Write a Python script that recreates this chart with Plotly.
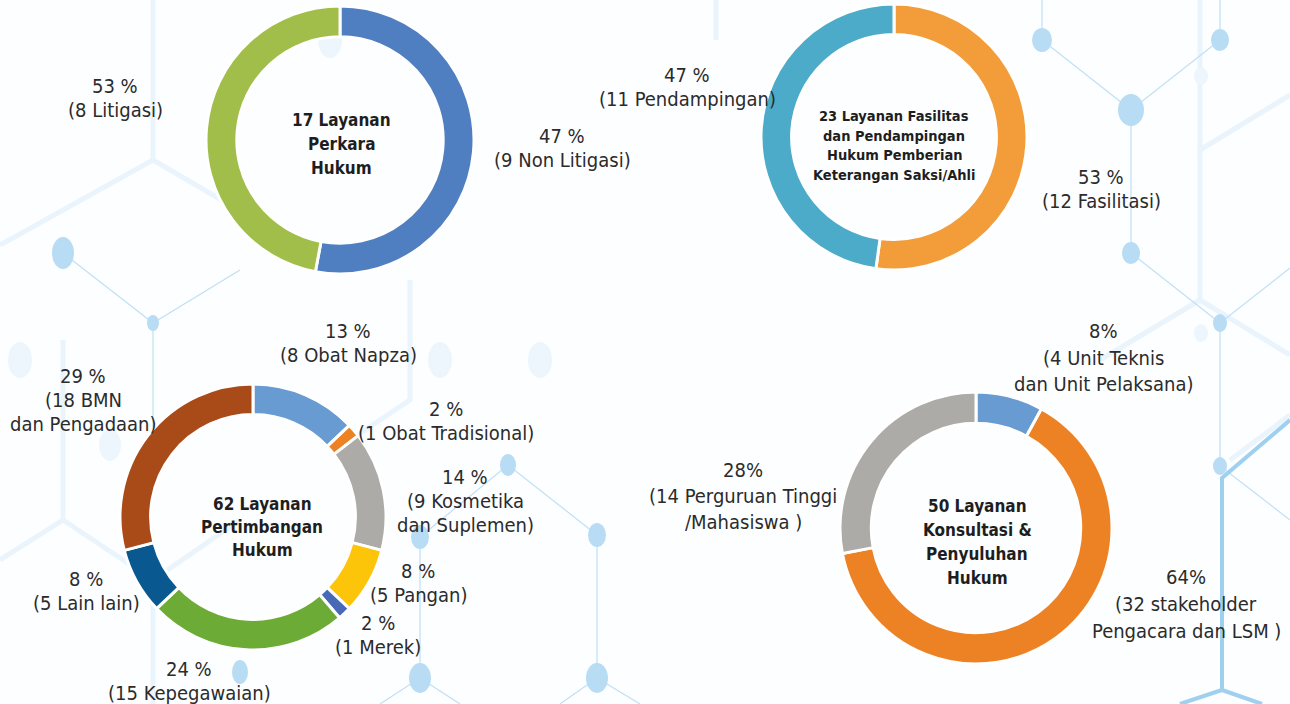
"""Donut infographic of legal services (Layanan Hukum)."""

import plotly.graph_objects as go

W, H = 1290, 704

# --- data --------------------------------------------------------------
perkara_labels = ["Non Litigasi", "Litigasi"]
perkara_values = [9, 8]
perkara_colors = ["#4F7FC1", "#A2BE4A"]

fasilitas_labels = ["Fasilitasi", "Pendampingan"]
fasilitas_values = [12, 11]
fasilitas_colors = ["#F39D3A", "#4CABC8"]

pertimbangan_labels = [
    "Obat Napza", "Obat Tradisional", "Kosmetika dan Suplemen", "Pangan",
    "Merek", "Kepegawaian", "Lain lain", "BMN dan Pengadaan",
]
pertimbangan_values = [8, 1, 9, 5, 1, 15, 5, 18]
pertimbangan_colors = [
    "#699BD3", "#EC8224", "#ACABA7", "#FDC50A",
    "#4769B8", "#6CAB36", "#0A5890", "#A84B18",
]

konsultasi_labels = [
    "Unit Teknis dan Unit Pelaksana", "stakeholder Pengacara dan LSM",
    "Perguruan Tinggi/Mahasiswa",
]
konsultasi_values = [4, 32, 14]
konsultasi_colors = ["#699BD3", "#EC8224", "#ACABA7"]

# label text: (x px, first line y px, line step px, lines)
perkara_text = [
    (115, 88, 20, ["53 %", "(8 Litigasi)"]),
    (562, 137, 21, ["47 %", "(9 Non Litigasi)"]),
]
fasilitas_text = [
    (687, 75, 23, ["47 %", "(11 Pendampingan)"]),
    (1101, 178, 22, ["53 %", "(12 Fasilitasi)"]),
]
pertimbangan_text = [
    (348, 332, 22, ["13 %", "(8 Obat Napza)"]),
    (446, 410, 22, ["2 %", "(1 Obat Tradisional)"]),
    (465, 480, 20.5, ["14 %", "(9 Kosmetika", "dan Suplemen)"]),
    (418, 572, 21, ["8 %", "(5 Pangan)"]),
    (378, 624, 21, ["2 %", "(1 Merek)"]),
    (189, 671, 20, ["24 %", "(15 Kepegawaian)"]),
    (86, 580, 21, ["8 %", "(5 Lain lain)"]),
    (83, 378, 21.5, ["29 %", "(18 BMN", "dan Pengadaan)"]),
]
konsultasi_text = [
    (1103, 331, 26.5, ["8%", "(4 Unit Teknis", "dan Unit Pelaksana)"]),
    (743, 470, 26, ["28%", "(14 Perguruan Tinggi", "/Mahasiswa )"]),
    (1186, 577, 27, ["64%", "(32 stakeholder", "Pengacara dan LSM )"]),
]
center_text = [
    (341, 120, 24, 17, ["17 Layanan", "Perkara", "Hukum"]),
    (894, 116, 19.5, 14.5, ["23 Layanan Fasilitas", "dan Pendampingan",
                            "Hukum Pemberian", "Keterangan Saksi/Ahli"]),
    (262, 504, 23, 17, ["62 Layanan", "Pertimbangan", "Hukum"]),
    (977, 506, 24, 17, ["50 Layanan", "Konsultasi &", "Penyuluhan", "Hukum"]),
]

# background network decoration (pixel coordinates)
bg_thin_lines = [
    [(1042, 0), (1042, 40), (1131, 110), (1220, 40), (1220, 0)],
    [(1131, 110), (1131, 253), (1220, 323), (1290, 268)],
    [(1220, 323), (1220, 466), (1290, 520)],
    [(420, 537), (508, 465), (597, 535), (597, 678), (560, 704)],
    [(420, 537), (420, 678), (380, 704)],
    [(420, 678), (460, 704)],
    [(597, 678), (640, 704)],
    [(153, 323), (153, 470)],
    [(63, 253), (153, 323), (240, 270)],
]
bg_soft_lines = [
    [(1200, 0), (1200, 150), (1290, 95)],
    [(1200, 150), (1200, 300), (1290, 355)],
    [(1200, 300), (1100, 360)],
    [(153, 0), (153, 160), (0, 245)],
    [(153, 160), (290, 240)],
    [(63, 340), (63, 520), (0, 560)],
    [(63, 520), (153, 580), (153, 704)],
    [(153, 580), (240, 520)],
    [(410, 280), (410, 400), (350, 440)],
    [(716, 0), (716, 40)],
    [(1230, 460), (1290, 415)],
]
bg_strong_lines = [
    [(1290, 420), (1222, 478), (1222, 690), (1180, 704)],
    [(1222, 690), (1262, 704)],
]
bg_nodes = [
    (1042, 40, 10, 12), (1220, 40, 9, 11), (1131, 110, 13, 16),
    (1131, 253, 9, 11), (1220, 323, 7, 9), (1220, 466, 7, 9),
    (508, 465, 8, 11), (597, 535, 9, 12), (420, 537, 9, 12),
    (597, 678, 11, 15), (420, 678, 11, 15), (153, 323, 6, 8),
    (63, 253, 11, 16), (240, 672, 8, 12),
]
bg_soft_nodes = [
    (1201, 76, 7, 9), (1201, 333, 7, 9), (540, 360, 12, 18),
    (440, 360, 12, 18), (20, 360, 12, 18), (110, 445, 11, 16),
    (330, 40, 12, 18),
]

FONT = "Liberation Sans Narrow, DejaVu Sans Condensed, Arial Narrow, sans-serif"
TEXT_COLOR = "#2B2B2B"
LABEL_SIZE = 20
MIN_STEP = 24  # keeps stacked lines from colliding


def px_domain(cx, cy, r):
    """Convert a pixel centre/radius to a paper domain."""
    return {
        "x": [(cx - r) / W, (cx + r) / W],
        "y": [1 - (cy + r) / H, 1 - (cy - r) / H],
    }


def donut(labels, values, colors, domain):
    return go.Pie(
        labels=labels,
        values=values,
        marker={"colors": colors, "line": {"color": "white", "width": 3}},
        hole=0.77,
        sort=False,
        direction="clockwise",
        rotation=0,
        textinfo="none",
        hoverinfo="label+value+percent",
        domain=domain,
        showlegend=False,
    )


def path_of(points):
    return "M " + " L ".join(f"{x},{y}" for x, y in points)


def stacked(x, y0, step, lines, size, bold=False, min_step=0):
    """One annotation per line, centred on the block's middle."""
    n = len(lines)
    mid = y0 + (n - 1) * step / 2
    step = max(step, min_step)
    out = []
    for i, line in enumerate(lines):
        out.append({
            "x": x, "y": mid + (i - (n - 1) / 2) * step,
            "xref": "x", "yref": "y",
            "text": f"<b>{line}</b>" if bold else line,
            "showarrow": False, "xanchor": "center", "yanchor": "middle",
            "font": {"family": FONT, "size": size,
                     "color": "#1E1E1E" if bold else TEXT_COLOR},
        })
    return out


fig = go.Figure()

shapes = []
for points, color, width in (
    [(p, "#EAF4FC", 5) for p in bg_soft_lines]
    + [(p, "#BFE0F5", 1.2) for p in bg_thin_lines]
    + [(p, "#9FD0F0", 4) for p in bg_strong_lines]
):
    shapes.append({
        "type": "path", "xref": "x", "yref": "y", "path": path_of(points),
        "line": {"color": color, "width": width}, "layer": "below",
    })
for nodes, color in ((bg_soft_nodes, "#EEF6FD"), (bg_nodes, "#B8DCF3")):
    for x, y, rx, ry in nodes:
        shapes.append({
            "type": "circle", "xref": "x", "yref": "y",
            "x0": x - rx, "x1": x + rx, "y0": y - ry, "y1": y + ry,
            "fillcolor": color, "line": {"width": 0}, "layer": "below",
        })

fig.add_trace(donut(perkara_labels, perkara_values, perkara_colors,
                    px_domain(340, 140, 134)))
fig.add_trace(donut(fasilitas_labels, fasilitas_values, fasilitas_colors,
                    px_domain(894, 137, 133)))
fig.add_trace(donut(pertimbangan_labels, pertimbangan_values,
                    pertimbangan_colors, px_domain(253, 517, 133)))
fig.add_trace(donut(konsultasi_labels, konsultasi_values, konsultasi_colors,
                    px_domain(976, 528, 136)))

annotations = []
for x, y0, step, lines in perkara_text + fasilitas_text + pertimbangan_text + konsultasi_text:
    annotations += stacked(x, y0, step, lines, LABEL_SIZE, min_step=MIN_STEP)
for x, y0, step, size, lines in center_text:
    annotations += stacked(x, y0, step, lines, size, bold=True)

fig.update_layout(
    width=W,
    height=H,
    margin={"l": 0, "r": 0, "t": 0, "b": 0},
    paper_bgcolor="#FDFEFF",
    plot_bgcolor="#FDFEFF",
    font={"family": FONT, "color": TEXT_COLOR},
    xaxis={"range": [0, W], "visible": False, "fixedrange": True},
    yaxis={"range": [H, 0], "visible": False, "fixedrange": True},
    shapes=shapes,
    annotations=annotations,
)

fig.write_html(
    "out.html",
    config={"displayModeBar": False},
    post_script="document.body.style.margin='0px';",
)
